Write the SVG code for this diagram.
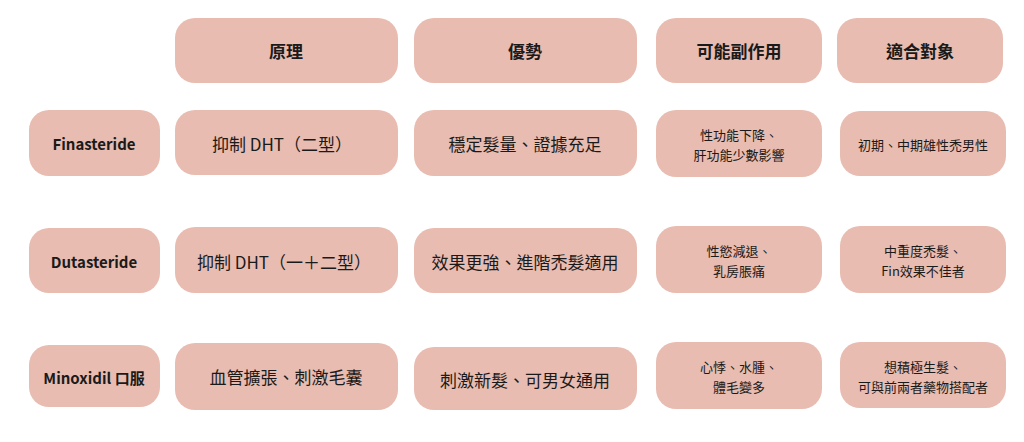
<svg xmlns="http://www.w3.org/2000/svg" width="1024" height="442" viewBox="0 0 1024 442">
<style>
rect{fill:#e8bcb1}
text{font-family:"Noto Sans CJK TC","Noto Sans",sans-serif;fill:#1a1a1a;text-anchor:middle;dominant-baseline:central}
.h{font-size:17px;font-weight:bold}
.r{font-size:15px;font-weight:bold}
.m{font-size:17px}
.s{font-size:13px}
</style>
<rect width="1024" height="442" style="fill:#fff"/>
<g id="h1"><rect x="175" y="18" width="223" height="65" rx="20"/><text class="h" x="286" y="50">原理</text></g>
<g id="h2"><rect x="414" y="18" width="223" height="65" rx="20"/><text class="h" x="525" y="50">優勢</text></g>
<g id="h3"><rect x="656" y="18" width="166" height="65" rx="20"/><text class="h" x="739" y="50">可能副作用</text></g>
<g id="h4"><rect x="837" y="18" width="166" height="65" rx="20"/><text class="h" x="920" y="50">適合對象</text></g>

<g id="r1"><rect x="29" y="110" width="131" height="66" rx="20"/><text class="r" x="94" y="143">Finasteride</text></g>
<g id="r1c2"><rect x="175" y="110" width="223" height="65" rx="20"/><text class="m" x="282" y="143">抑制 DHT（二型）</text></g>
<g id="r1c3"><rect x="414" y="110" width="223" height="66" rx="20"/><text class="m" x="525" y="143">穩定髮量、證據充足</text></g>
<g id="r1c4"><rect x="656" y="110" width="166" height="67" rx="20"/><text class="s" x="739" y="134">性功能下降、</text><text class="s" x="739" y="154">肝功能少數影響</text></g>
<g id="r1c5"><rect x="840" y="111" width="166" height="65" rx="20"/><text class="s" x="923" y="144">初期、中期雄性禿男性</text></g>

<g id="r2"><rect x="29" y="228" width="131" height="65" rx="20"/><text class="r" x="94" y="261">Dutasteride</text></g>
<g id="r2c2"><rect x="175" y="227" width="223" height="66" rx="20"/><text class="m" x="284" y="261">抑制 DHT（一＋二型）</text></g>
<g id="r2c3"><rect x="414" y="228" width="223" height="65" rx="20"/><text class="m" x="525" y="261">效果更強、進階禿髮適用</text></g>
<g id="r2c4"><rect x="656" y="226" width="166" height="67" rx="20"/><text class="s" x="739" y="250">性慾減退、</text><text class="s" x="739" y="270">乳房脹痛</text></g>
<g id="r2c5"><rect x="840" y="226" width="166" height="67" rx="20"/><text class="s" x="923" y="250">中重度禿髮、</text><text class="s" x="923" y="270">Fin效果不佳者</text></g>

<g id="r3"><rect x="29" y="345" width="131" height="62" rx="20"/><text class="r" x="94" y="377">Minoxidil 口服</text></g>
<g id="r3c2"><rect x="175" y="343" width="223" height="67" rx="20"/><text class="m" x="286" y="376">血管擴張、刺激毛囊</text></g>
<g id="r3c3"><rect x="414" y="347" width="223" height="63" rx="20"/><text class="m" x="525" y="379">刺激新髮、可男女通用</text></g>
<g id="r3c4"><rect x="656" y="342" width="166" height="67" rx="20"/><text class="s" x="739" y="366">心悸、水腫、</text><text class="s" x="739" y="386">體毛變多</text></g>
<g id="r3c5"><rect x="840" y="342" width="166" height="66" rx="20"/><text class="s" x="923" y="366">想積極生髮、</text><text class="s" x="923" y="386">可與前兩者藥物搭配者</text></g>
<g id="connectors"/>
</svg>
